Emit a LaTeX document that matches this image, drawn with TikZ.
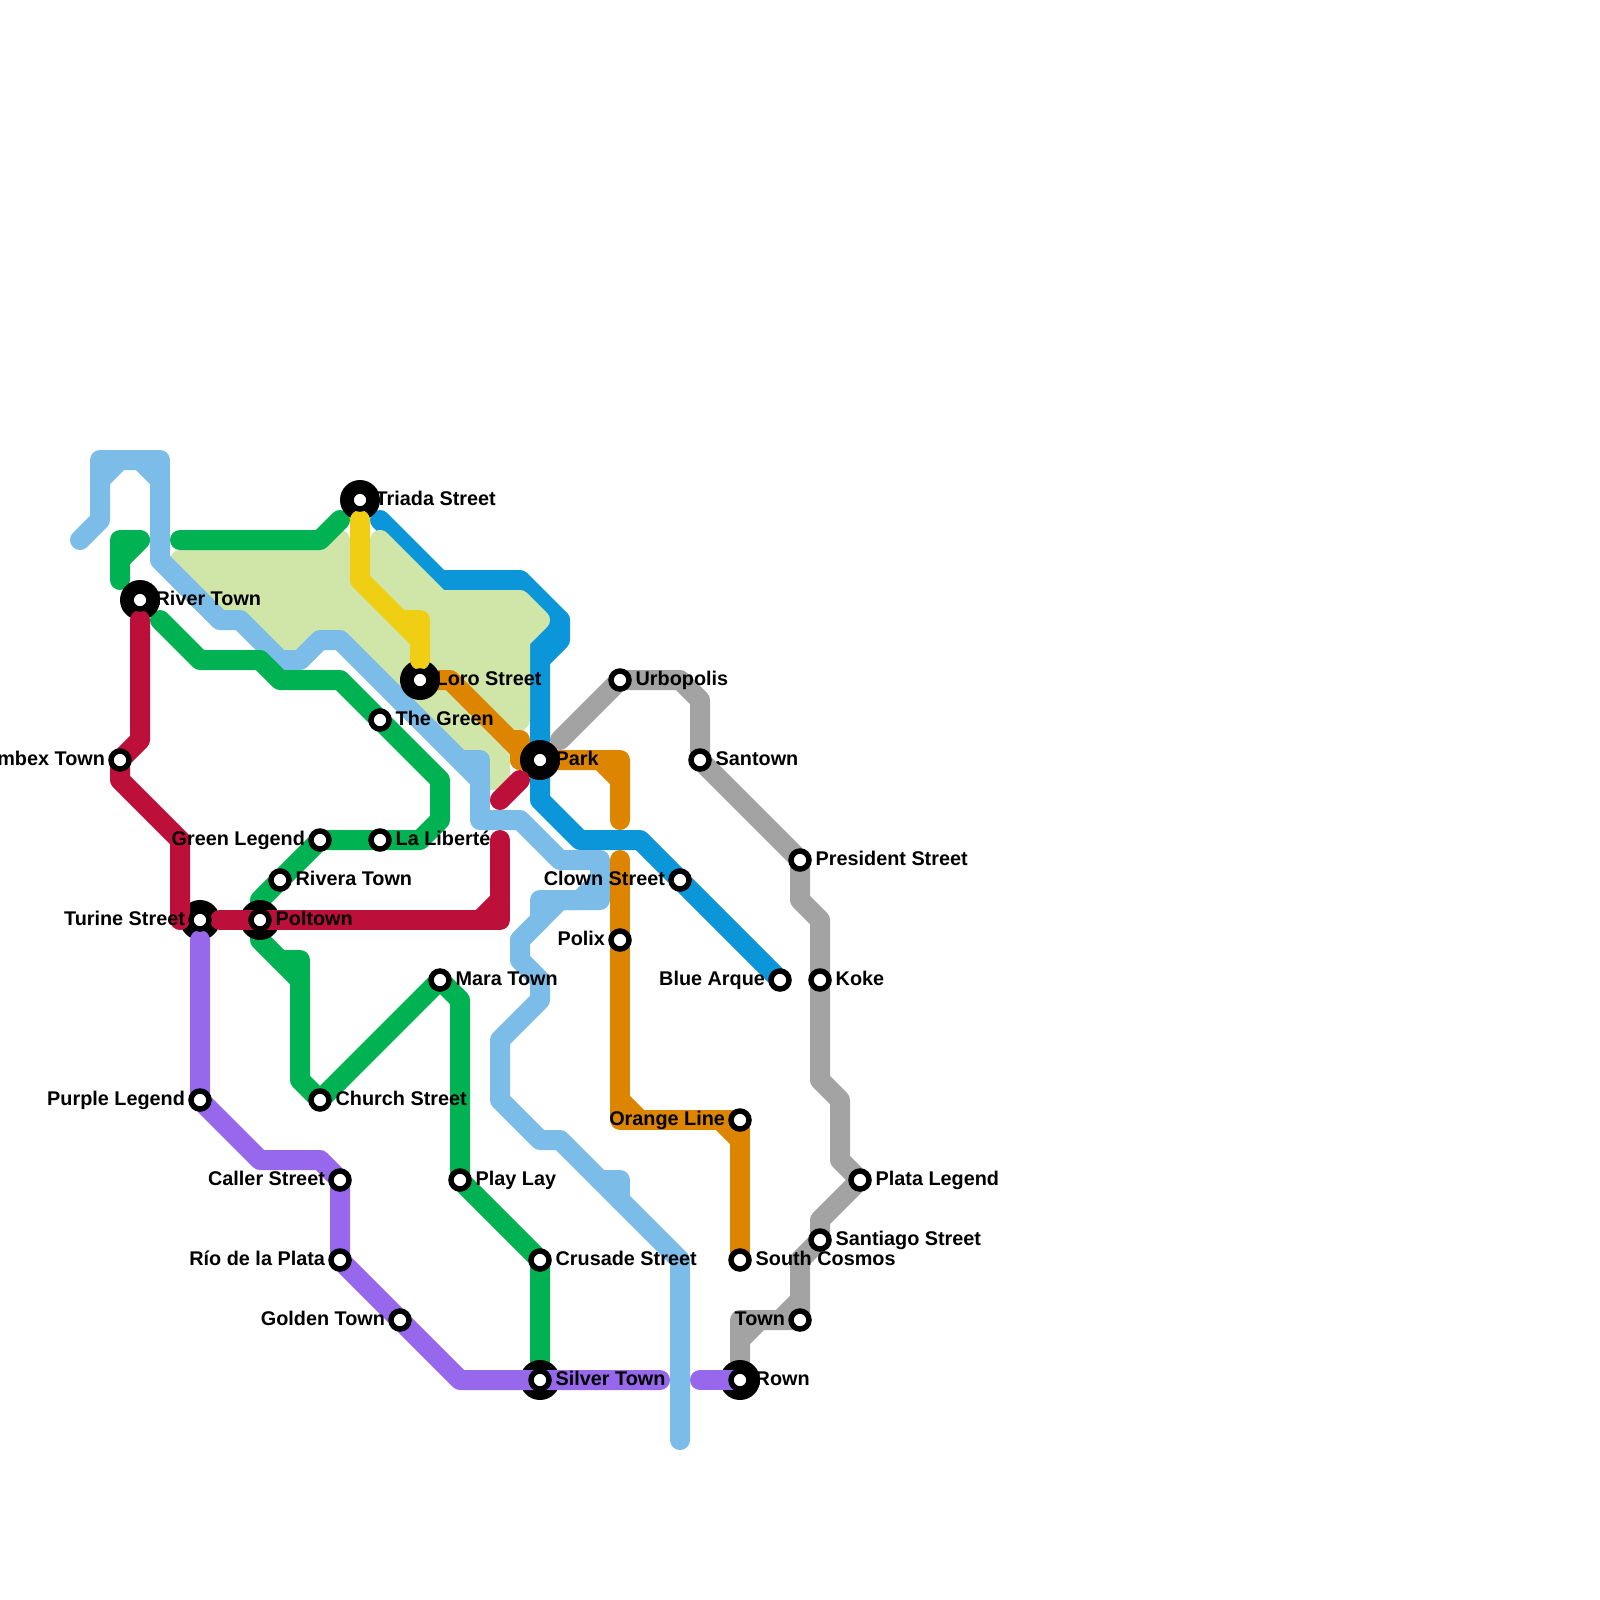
\documentclass[tikz,border=0pt]{standalone}
\usepackage{fontspec}
\setmainfont{Liberation Sans}
\definecolor{cfill}{RGB}{208,230,168}
\definecolor{csky}{RGB}{123,189,232}
\definecolor{cgreen}{RGB}{0,178,82}
\definecolor{ccrim}{RGB}{188,16,58}
\definecolor{cpurp}{RGB}{151,104,236}
\definecolor{corng}{RGB}{222,133,0}
\definecolor{cgray}{RGB}{163,163,163}
\definecolor{cblue}{RGB}{10,150,216}
\definecolor{cyell}{RGB}{240,206,20}
\tikzset{
  route/.style={line width=0.5cm, line cap=round, line join=round},
  skyl/.style={route, csky},
  greenl/.style={route, cgreen},
  criml/.style={route, ccrim},
  purpl/.style={route, cpurp},
  orngl/.style={route, corng},
  grayl/.style={route, cgray},
  bluel/.style={route, cblue},
  yelll/.style={route, cyell},
  zone/.style={draw=cfill, fill=cfill, line width=0.5cm, line join=round},
  bigstn/.style={circle, fill=black, inner sep=0pt, minimum size=1cm},
  stn/.style={circle, draw=black, fill=white, line width=3.9pt, inner sep=0pt, minimum size=0.45cm},
  lab/.style={font=\fontsize{14.1}{16}\selectfont\bfseries, inner sep=0pt, yshift=-0.125cm},
  rlab/.style={lab, anchor=base west, xshift=0.385cm},
  llab/.style={lab, anchor=base east, xshift=-0.37cm},
}
\newcommand{\stnr}[2]{%
  \node[stn] (#1ring) at (#1) {};
  \node[rlab] (#1lab) at (#1) {#2};}
\newcommand{\stnl}[2]{%
  \node[stn] (#1ring) at (#1) {};
  \node[llab] (#1lab) at (#1) {#2};}
\begin{document}
\begin{tikzpicture}[x=0.5cm, y=-0.5cm]
\useasboundingbox (0,0) rectangle (80,80);
% stations
\coordinate (rivertown) at (7,30);
\coordinate (triada) at (18,25);
\coordinate (loro) at (21,34);
\coordinate (park) at (27,38);
\coordinate (thegreen) at (19,36);
\coordinate (mbex) at (6,38);
\coordinate (greenleg) at (16,42);
\coordinate (liberte) at (19,42);
\coordinate (rivera) at (14,44);
\coordinate (turine) at (10,46);
\coordinate (poltown) at (13,46);
\coordinate (mara) at (22,49);
\coordinate (church) at (16,55);
\coordinate (purpleleg) at (10,55);
\coordinate (caller) at (17,59);
\coordinate (rio) at (17,63);
\coordinate (golden) at (20,66);
\coordinate (playlay) at (23,59);
\coordinate (crusade) at (27,63);
\coordinate (silver) at (27,69);
\coordinate (rown) at (37,69);
\coordinate (urbo) at (31,34);
\coordinate (santown) at (35,38);
\coordinate (president) at (40,43);
\coordinate (clown) at (34,44);
\coordinate (polix) at (31,47);
\coordinate (arque) at (39,49);
\coordinate (koke) at (41,49);
\coordinate (orangeline) at (37,56);
\coordinate (plata) at (43,59);
\coordinate (santiago) at (41,62);
\coordinate (cosmos) at (37,63);
\coordinate (town) at (40,66);
% blue
\draw[bluel] (19,26) -- (22,29) -- (26,29) -- (28,31) -- (27,32) -- (park) -- (27,40) -- (29,42) -- (32,42)
  -- (clown) -- (arque);
\draw[bluel] (28,31) -- (28,32) -- (27,33);
% park area
\draw[zone] (9,28) -- (16,28) -- (17,27) -- (17,29) -- (19,29) -- (19,27) -- (22,30)
  -- (26,30) -- (27,31) -- (26,32) -- (26,36) -- (25,37) -- (25,39) -- (24,39) -- (17,32)
  -- (16,32) -- (15,33) -- (14,33) -- (12,31) -- (11,31) -- (9,29) -- cycle;
% light blue
\draw[skyl] (4,27) -- (5,26) -- (5,24) -- (6,23) -- (7,23) -- (8,24) -- (8,28) -- (11,31) -- (12,31)
  -- (14,33) -- (15,33) -- (16,32) -- (17,32) -- (24,39) -- (24,41) -- (26,41) -- (28,43) -- (30,43)
  -- (30,44) -- (29,45) -- (27,45) -- (27,46) -- (26,47) -- (26,48) -- (27,49) -- (27,50) -- (25,52)
  -- (25,55) -- (27,57) -- (28,57) -- (34,63) -- (34,72);
\draw[skyl] (5,24) -- (5,23) -- (8,23) -- (8,24);
\draw[skyl] (23,38) -- (24,38) -- (24,39);
\draw[skyl] (30,44) -- (30,45) -- (28,45) -- (26,47);
\draw[skyl] (30,59) -- (31,59) -- (31,60);
% green
\draw[greenl] (6,29) -- (6,27) -- (7,27) -- (6,28);
\draw[greenl] (9,27) -- (16,27) -- (17,26);
\draw[greenl] (8,31) -- (10,33) -- (13,33) -- (14,34) -- (17,34) -- (thegreen) -- (22,39) -- (22,41)
  -- (21,42) -- (liberte) -- (greenleg) -- (rivera) -- (13,45) -- (poltown) -- (13,47) -- (15,49) -- (15,54)
  -- (church) -- (mara) -- (23,50) -- (playlay) -- (crusade) -- (silver);
\draw[greenl] (14,48) -- (15,48) -- (15,49);
% orange
\draw[orngl] (loro) -- (22.5,34) -- (26,37.5) -- (26,38) -- (park) -- (31,38) -- (31,41);
\draw[orngl] (25.5,37) -- (26,37) -- (26,38);
\draw[orngl] (30,38) -- (31,39);
\draw[orngl] (31,43) -- (polix) -- (31,56) -- (orangeline) -- (cosmos);
\draw[orngl] (31,55) -- (32,56);
\draw[orngl] (36,56) -- (37,57);
% gray
\draw[grayl] (28,37) -- (urbo) -- (34,34) -- (35,35) -- (santown) -- (president) -- (40,45) -- (41,46)
  -- (koke) -- (41,54) -- (42,55) -- (42,58) -- (plata) -- (41,61) -- (santiago) -- (40,63) -- (town)
  -- (37,66) -- (rown);
\draw[grayl] (40,65) -- (39,66);
\draw[grayl] (38,66) -- (37,67);
% interchanges
\node[bigstn] (rivertownbig) at (rivertown) {};
\node[bigstn] (triadabig) at (triada) {};
\node[bigstn] (lorobig) at (loro) {};
\node[bigstn] (parkbig) at (park) {};
\node[bigstn] (turinebig) at (turine) {};
\node[bigstn] (poltownbig) at (poltown) {};
\node[bigstn] (silverbig) at (silver) {};
\node[bigstn] (rownbig) at (rown) {};
% lines above the interchanges
\draw[yelll] (18,26) -- (18,29) -- (21,32) -- (21,33);
\draw[yelll] (20,31) -- (21,31) -- (21,32);
\draw[criml] (7,31) -- (7,37) -- (mbex) -- (6,39) -- (9,42) -- (9,46);
\draw[criml] (11,46) -- (poltown) -- (25,46) -- (25,42);
\draw[criml] (24,46) -- (25,45);
\draw[criml] (25,40) -- (26,39);
\draw[purpl] (10,47) -- (purpleleg) -- (13,58) -- (16,58) -- (caller) -- (rio) -- (golden) -- (23,69) -- (silver) -- (33,69);
\draw[purpl] (35,69) -- (rown);
% rings and labels
\stnr{rivertown}{River Town}
\stnr{triada}{Triada Street}
\stnr{loro}{Loro Street}
\stnr{park}{Park}
\stnr{thegreen}{The Green}
\stnl{mbex}{mbex Town}
\stnl{greenleg}{Green Legend}
\stnr{liberte}{La Liberté}
\stnr{rivera}{Rivera Town}
\stnl{turine}{Turine Street}
\stnr{poltown}{Poltown}
\stnr{mara}{Mara Town}
\stnr{church}{Church Street}
\stnl{purpleleg}{Purple Legend}
\stnl{caller}{Caller Street}
\stnl{rio}{Río de la Plata}
\stnl{golden}{Golden Town}
\stnr{playlay}{Play Lay}
\stnr{crusade}{Crusade Street}
\stnr{silver}{Silver Town}
\stnr{rown}{Rown}
\stnr{urbo}{Urbopolis}
\stnr{santown}{Santown}
\stnr{president}{President Street}
\stnl{clown}{Clown Street}
\stnl{polix}{Polix}
\stnl{arque}{Blue Arque}
\stnr{koke}{Koke}
\stnl{orangeline}{Orange Line}
\stnr{plata}{Plata Legend}
\stnr{santiago}{Santiago Street}
\stnr{cosmos}{South Cosmos}
\stnl{town}{Town}
\end{tikzpicture}
\end{document}
